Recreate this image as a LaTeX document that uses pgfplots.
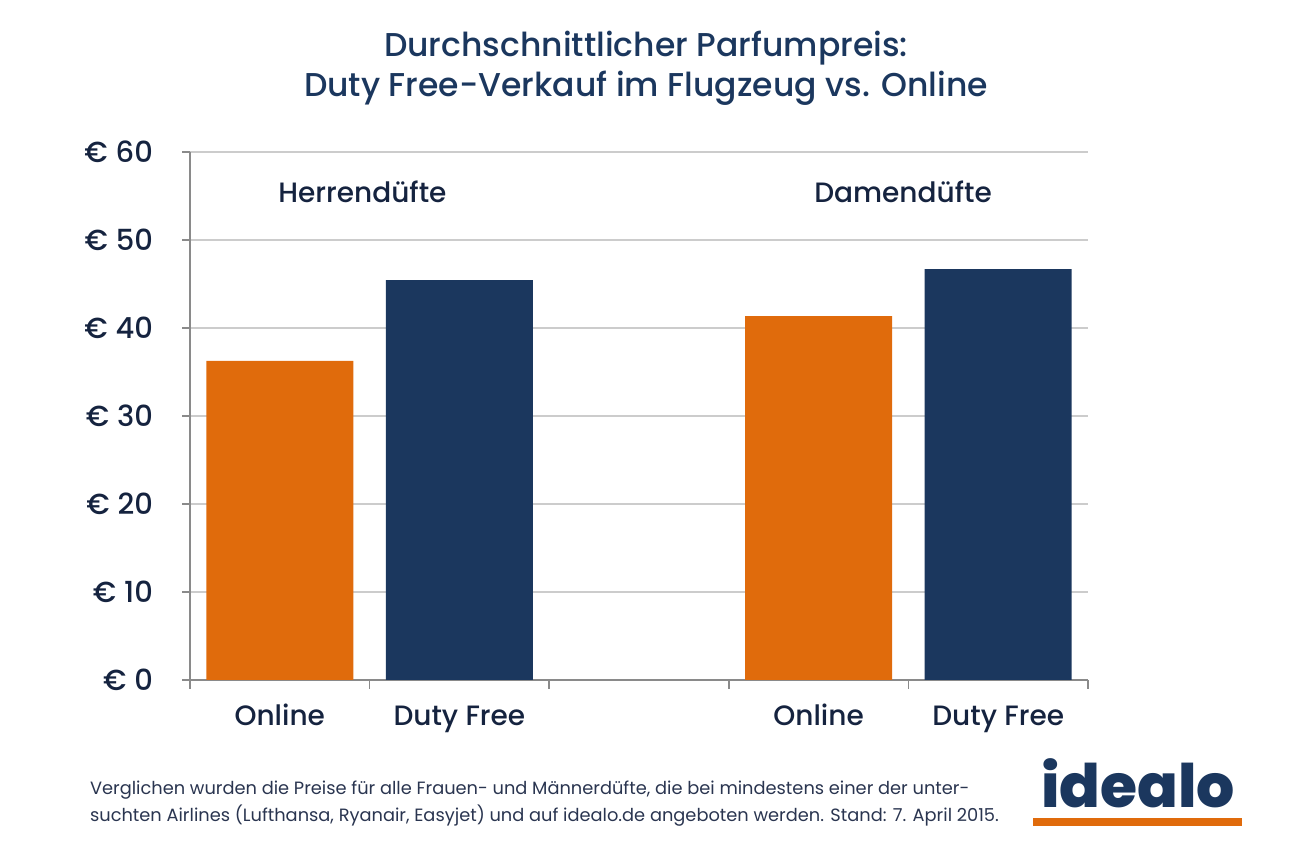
\documentclass[border=0pt]{standalone}
\usepackage{fontspec}
\setmainfont{Poppins}
\newfontfamily\pmed{Poppins Medium}
\newfontfamily\pxb{Poppins ExtraBold}
\usepackage{pgfplots}
\pgfplotsset{compat=1.18}
\definecolor{navy}{HTML}{1B375E}
\definecolor{orng}{HTML}{E06B0C}
\definecolor{txt}{HTML}{15233F}
\definecolor{foot}{HTML}{2A3550}
\definecolor{gridc}{HTML}{CCCCCC}
\definecolor{axc}{HTML}{8A8A8A}
\begin{document}
\begin{tikzpicture}
\path (0,0) rectangle (645pt,427.5pt);
\node[text=navy, align=center, font=\pmed\fontsize{16.5}{20}\selectfont] at (323pt,393.5pt)
  {Durchschnittlicher Parfumpreis:\\Duty Free-Verkauf im Flugzeug vs. Online};
\begin{axis}[
  at={(95pt,87.5pt)}, anchor=south west,
  width=449pt, height=264pt, scale only axis,
  xmin=0, xmax=5, ymin=0, ymax=60,
  axis x line=bottom, axis y line=left,
  axis line style={axc, line width=0.8pt, -},
  ytick={0,10,...,60},
  yticklabels={€\;0,€\;10,€\;20,€\;30,€\;40,€\;50,€\;60},
  ymajorgrids, grid style={gridc, line width=0.6pt},
  xtick={0.5,1.5,3.5,4.5},
  xticklabels={Online,Duty Free,Online,Duty Free},
  minor xtick={0,1,2,3,4,5},
  major x tick style={draw=none},
  minor x tick style={axc, line width=0.8pt},
  every tick/.style={axc, line width=0.8pt},
  tick align=outside,
  major tick length=4pt, minor tick length=4.5pt,
  y tick label style={text=txt, font=\pmed\fontsize{14.5}{16}\selectfont, xshift=-11pt},
  x tick label style={text=txt, font=\pmed\fontsize{14}{16}\selectfont, text height=10pt, text depth=3pt, yshift=-5pt},
  ybar, bar width=73.5pt, bar shift=0pt,
  clip=false,
]
\addplot[fill=orng, draw=none] coordinates {(0.5,36.25) (3.5,41.35)};
\addplot[fill=navy, draw=none] coordinates {(1.5,45.45) (4.5,46.7)};
\node[text=txt, font=\pmed\fontsize{14}{16}\selectfont] at (axis cs:0.96,55.45) {Herrendüfte};
\node[text=txt, font=\pmed\fontsize{14}{16}\selectfont] at (axis cs:3.97,55.45) {Damendüfte};
\end{axis}
\node[anchor=west, align=left, text=foot, font=\fontsize{8.9}{13.5}\selectfont] at (41.5pt,25.5pt)
  {Verglichen wurden die Preise für alle Frauen- und Männerdüfte, die bei mindestens einer der unter-\\suchten Airlines (Lufthansa, Ryanair, Easyjet) und auf idealo.de angeboten werden. Stand: 7. April 2015.};
\node[text=navy, font=\pxb\fontsize{30}{30}\selectfont, anchor=base] at (569pt,23.5pt) {idealo};
\fill[orng] (516.5pt,14.5pt) rectangle (621pt,18.5pt);
\end{tikzpicture}
\end{document}
